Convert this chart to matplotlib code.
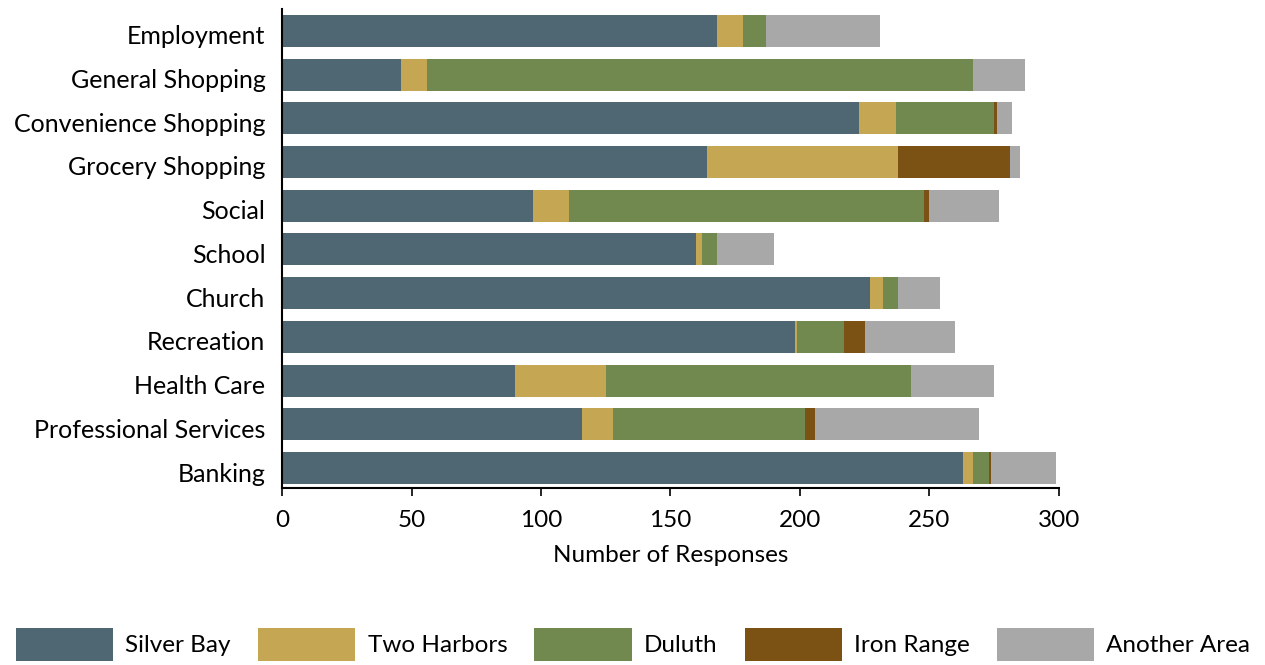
import matplotlib
matplotlib.use("Agg")
import matplotlib.pyplot as plt
import matplotlib.transforms as mtransforms
import numpy as np

plt.rcParams['font.family'] = ['Lato', 'DejaVu Sans']

categories = ["Employment", "General Shopping", "Convenience Shopping", "Grocery Shopping",
              "Social", "School", "Church", "Recreation", "Health Care",
              "Professional Services", "Banking"]
series_names = ["Silver Bay", "Two Harbors", "Duluth", "Iron Range", "Another Area"]
silver_bay   = [168, 46, 223, 164, 97, 160, 227, 198, 90, 116, 263]
two_harbors  = [10, 10, 14, 74, 14, 2, 5, 1, 35, 12, 4]
duluth       = [9, 211, 38, 0, 137, 6, 6, 18, 118, 74, 6]
iron_range   = [0, 0, 1, 43, 2, 0, 0, 8, 0, 4, 1]
another_area = [44, 20, 6, 4, 27, 22, 16, 35, 32, 63, 25]
colors = ["#4E6773", "#C5A653", "#71884F", "#7C5114", "#A8A8A8"]
xticks = [0, 50, 100, 150, 200, 250, 300]

fig = plt.figure(figsize=(12.65, 6.65), dpi=100)
ax = fig.add_axes([0.223, 0.266, 0.614, 0.7205])

y = np.arange(len(categories))
left = np.zeros(len(categories))
for name, vals, c in zip(series_names, [silver_bay, two_harbors, duluth, iron_range, another_area], colors):
    vals = np.array(vals, dtype=float)
    ax.barh(y, vals, left=left, height=0.73, color=c, label=name, linewidth=0)
    left += vals

ax.set_ylim(10.46, -0.5)
ax.set_xlim(0, 300)
ax.set_yticks(y)
ax.set_yticklabels(categories, fontsize=18)
ax.tick_params(axis='y', length=0, pad=12)
offset = mtransforms.ScaledTranslation(0, -4 / 100, fig.dpi_scale_trans)
for lbl in ax.get_yticklabels():
    lbl.set_transform(lbl.get_transform() + offset)
ax.set_xticks(xticks)
ax.set_xticklabels([str(t) for t in xticks], fontsize=17.5)
ax.tick_params(axis='x', direction='out', length=6, width=1.2, pad=10)
for s in ['top', 'right']:
    ax.spines[s].set_visible(False)
ax.spines['left'].set_linewidth(1.5)
ax.spines['bottom'].set_linewidth(1.5)
ax.set_xlabel("Number of Responses", fontsize=17.5, labelpad=10)

fig.legend(loc='lower left', bbox_to_anchor=(0.005, -0.009), ncol=5, frameon=False,
           fontsize=17.5, handlelength=4.0, handleheight=1.75, handletextpad=0.5,
           columnspacing=1.12, borderaxespad=0)

fig.savefig("out.png", dpi=100)
